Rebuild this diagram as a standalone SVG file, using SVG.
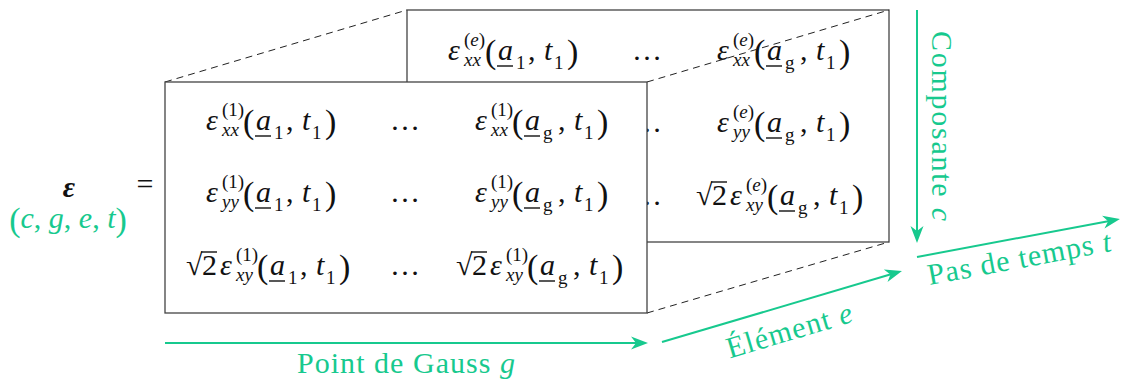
<svg xmlns="http://www.w3.org/2000/svg" width="1123" height="381" viewBox="0 0 1123 381">
<style>
text{font-family:"Liberation Serif",serif;font-size:30px;fill:#111}
.i{font-style:italic}
.s{font-size:19px}
.p{font-size:34px}
.box{fill:#fff;stroke:#444;stroke-width:1.3}
.ul{stroke:#111;stroke-width:1.4}
.dash{fill:none;stroke:#222;stroke-width:1;stroke-dasharray:7 5}
.ax{fill:none;stroke:#17C98E;stroke-width:2;marker-end:url(#ah)}
.g{fill:#17C98E}
</style>
<defs>
<marker id="ah" markerUnits="userSpaceOnUse" viewBox="-18 -8 20 16" markerWidth="20" markerHeight="16" refX="-8" refY="0" orient="auto">
<path d="M0,0 L-17,-6.5 L-12,0 L-17,6.5 Z" fill="#17C98E"/>
</marker>
</defs>

<g id="back">
<rect class="box" x="407" y="10" width="482" height="232"/>
<text><tspan class="i" x="448" y="60">ε</tspan><tspan class="s" x="464" y="46">(<tspan class="i">e</tspan>)</tspan><tspan class="s i" x="464" y="66">xx</tspan><tspan class="p" x="485" y="63">(</tspan><tspan class="i" x="498" y="60">a</tspan><tspan class="s" x="516" y="69">1</tspan><tspan x="528" y="60">,</tspan><tspan class="i" x="544" y="60">t</tspan><tspan class="s" x="554" y="69">1</tspan><tspan class="p" x="567" y="63">)</tspan></text>
<line class="ul" x1="497" y1="66" x2="513" y2="66"/>
<text x="647" y="60" text-anchor="middle">…</text>
<text><tspan class="i" x="717" y="60">ε</tspan><tspan class="s" x="733" y="46">(<tspan class="i">e</tspan>)</tspan><tspan class="s i" x="733" y="66">xx</tspan><tspan class="p" x="754" y="63">(</tspan><tspan class="i" x="767" y="60">a</tspan><tspan class="s" x="785" y="69">g</tspan><tspan x="800" y="60">,</tspan><tspan class="i" x="816" y="60">t</tspan><tspan class="s" x="826" y="69">1</tspan><tspan class="p" x="839" y="63">)</tspan></text>
<line class="ul" x1="766" y1="66" x2="782" y2="66"/>
<text x="647" y="132" text-anchor="middle">…</text>
<text><tspan class="i" x="717" y="132">ε</tspan><tspan class="s" x="733" y="118">(<tspan class="i">e</tspan>)</tspan><tspan class="s i" x="733" y="138">yy</tspan><tspan class="p" x="754" y="135">(</tspan><tspan class="i" x="767" y="132">a</tspan><tspan class="s" x="785" y="141">g</tspan><tspan x="800" y="132">,</tspan><tspan class="i" x="816" y="132">t</tspan><tspan class="s" x="826" y="141">1</tspan><tspan class="p" x="839" y="135">)</tspan></text>
<line class="ul" x1="766" y1="138" x2="782" y2="138"/>
<text x="647" y="205" text-anchor="middle">…</text>
<text><tspan x="696" y="205">√</tspan><tspan x="712" y="205">2</tspan><tspan class="i" x="730" y="205">ε</tspan><tspan class="s" x="746" y="191">(<tspan class="i">e</tspan>)</tspan><tspan class="s i" x="746" y="211">xy</tspan><tspan class="p" x="767" y="208">(</tspan><tspan class="i" x="780" y="205">a</tspan><tspan class="s" x="798" y="214">g</tspan><tspan x="813" y="205">,</tspan><tspan class="i" x="829" y="205">t</tspan><tspan class="s" x="839" y="214">1</tspan><tspan class="p" x="852" y="208">)</tspan></text>
<line class="ul" x1="779" y1="211" x2="795" y2="211"/>
<line class="ul" x1="711" y1="182" x2="727" y2="182"/>
</g>

<g id="connectors">
<line class="dash" x1="165" y1="82" x2="407" y2="10"/>
<line class="dash" x1="647" y1="82" x2="889" y2="10"/>
<line class="dash" x1="647" y1="313" x2="889" y2="242"/>
</g>

<g id="front">
<rect class="box" x="165" y="82" width="482" height="231"/>
<text><tspan class="i" x="206" y="130">ε</tspan><tspan class="s" x="222" y="116">(1)</tspan><tspan class="s i" x="222" y="136">xx</tspan><tspan class="p" x="243" y="133">(</tspan><tspan class="i" x="256" y="130">a</tspan><tspan class="s" x="274" y="139">1</tspan><tspan x="286" y="130">,</tspan><tspan class="i" x="302" y="130">t</tspan><tspan class="s" x="312" y="139">1</tspan><tspan class="p" x="325" y="133">)</tspan></text>
<line class="ul" x1="255" y1="136" x2="271" y2="136"/>
<text x="405" y="130" text-anchor="middle">…</text>
<text><tspan class="i" x="475" y="130">ε</tspan><tspan class="s" x="491" y="116">(1)</tspan><tspan class="s i" x="491" y="136">xx</tspan><tspan class="p" x="512" y="133">(</tspan><tspan class="i" x="525" y="130">a</tspan><tspan class="s" x="543" y="139">g</tspan><tspan x="558" y="130">,</tspan><tspan class="i" x="574" y="130">t</tspan><tspan class="s" x="584" y="139">1</tspan><tspan class="p" x="597" y="133">)</tspan></text>
<line class="ul" x1="524" y1="136" x2="540" y2="136"/>

<text><tspan class="i" x="206" y="202">ε</tspan><tspan class="s" x="222" y="188">(1)</tspan><tspan class="s i" x="222" y="208">yy</tspan><tspan class="p" x="243" y="205">(</tspan><tspan class="i" x="256" y="202">a</tspan><tspan class="s" x="274" y="211">1</tspan><tspan x="286" y="202">,</tspan><tspan class="i" x="302" y="202">t</tspan><tspan class="s" x="312" y="211">1</tspan><tspan class="p" x="325" y="205">)</tspan></text>
<line class="ul" x1="255" y1="208" x2="271" y2="208"/>
<text x="405" y="202" text-anchor="middle">…</text>
<text><tspan class="i" x="475" y="202">ε</tspan><tspan class="s" x="491" y="188">(1)</tspan><tspan class="s i" x="491" y="208">yy</tspan><tspan class="p" x="512" y="205">(</tspan><tspan class="i" x="525" y="202">a</tspan><tspan class="s" x="543" y="211">g</tspan><tspan x="558" y="202">,</tspan><tspan class="i" x="574" y="202">t</tspan><tspan class="s" x="584" y="211">1</tspan><tspan class="p" x="597" y="205">)</tspan></text>
<line class="ul" x1="524" y1="208" x2="540" y2="208"/>

<text><tspan x="186" y="275">√</tspan><tspan x="202" y="275">2</tspan><tspan class="i" x="220" y="275">ε</tspan><tspan class="s" x="236" y="261">(1)</tspan><tspan class="s i" x="236" y="281">xy</tspan><tspan class="p" x="257" y="278">(</tspan><tspan class="i" x="270" y="275">a</tspan><tspan class="s" x="288" y="284">1</tspan><tspan x="300" y="275">,</tspan><tspan class="i" x="316" y="275">t</tspan><tspan class="s" x="326" y="284">1</tspan><tspan class="p" x="339" y="278">)</tspan></text>
<line class="ul" x1="269" y1="281" x2="285" y2="281"/>
<line class="ul" x1="201" y1="252" x2="217" y2="252"/>
<text x="405" y="275" text-anchor="middle">…</text>
<text><tspan x="456" y="275">√</tspan><tspan x="472" y="275">2</tspan><tspan class="i" x="490" y="275">ε</tspan><tspan class="s" x="506" y="261">(1)</tspan><tspan class="s i" x="506" y="281">xy</tspan><tspan class="p" x="527" y="278">(</tspan><tspan class="i" x="540" y="275">a</tspan><tspan class="s" x="558" y="284">g</tspan><tspan x="573" y="275">,</tspan><tspan class="i" x="589" y="275">t</tspan><tspan class="s" x="599" y="284">1</tspan><tspan class="p" x="612" y="278">)</tspan></text>
<line class="ul" x1="539" y1="281" x2="555" y2="281"/>
<line class="ul" x1="471" y1="252" x2="487" y2="252"/>
</g>

<g id="lhs">
<text x="69" y="197" text-anchor="middle" font-weight="bold" class="i">ε</text>
<text x="68" y="228" text-anchor="middle" class="g"><tspan class="p" dy="3">(</tspan><tspan class="i" dy="-3">c</tspan>, <tspan class="i">g</tspan>, <tspan class="i">e</tspan>, <tspan class="i">t</tspan><tspan class="p" dy="3">)</tspan></text>
<text x="145" y="194" text-anchor="middle">=</text>
</g>

<g id="axes">
<line class="ax" x1="165" y1="343" x2="640" y2="343"/>
<line class="ax" x1="662" y1="342" x2="894.3" y2="273.3"/>
<line class="ax" x1="917" y1="257" x2="1112.1" y2="220.5"/>
<line class="ax" x1="917" y1="10" x2="917" y2="235"/>
<text class="g" x="406" y="373" text-anchor="middle" textLength="218" lengthAdjust="spacing">Point de Gauss <tspan class="i">g</tspan></text>
<text class="g" transform="translate(792,340) rotate(-16.5)" text-anchor="middle" textLength="130" lengthAdjust="spacing">Élément <tspan class="i">e</tspan></text>
<text class="g" transform="translate(1021,268) rotate(-10.6)" text-anchor="middle" textLength="186" lengthAdjust="spacing">Pas de temps <tspan class="i">t</tspan></text>
<text class="g" transform="translate(932,126) rotate(90)" text-anchor="middle" textLength="190" lengthAdjust="spacing">Composante <tspan class="i">c</tspan></text>
</g>
</svg>
